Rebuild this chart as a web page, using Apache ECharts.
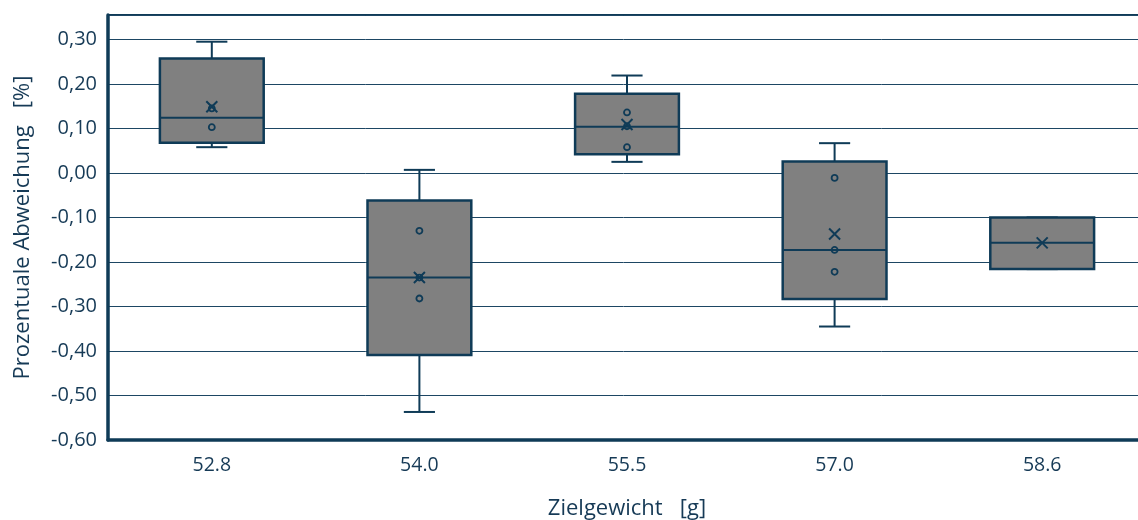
<!DOCTYPE html>
<html>
<head>
	<meta charset="UTF-8">
	<title>Prozentuale Abweichung</title>
	<script src="https://cdn.jsdelivr.net/npm/echarts@6/dist/echarts.min.js"></script>
	<style>
		html, body { margin: 0; padding: 0; background: #fff; }
		#chart { width: 1138px; height: 520px; }
	</style>
</head>
<body>
	<div id="chart"></div>
	<script type="text/javascript">
		// Zielgewicht (Kategorien)
		var categories = ['52.8', '54.0', '55.5', '57.0', '58.6'];
		// Boxplot-Kennwerte je Kategorie
		var minVals    = [0.058, -0.537, 0.025, -0.345, -0.216];
		var q1Vals     = [0.068, -0.409, 0.042, -0.283, -0.216];
		var medianVals = [0.124, -0.235, 0.104, -0.173, -0.157];
		var q3Vals     = [0.257, -0.062, 0.178, 0.026, -0.100];
		var maxVals    = [0.295, 0.007, 0.219, 0.067, -0.100];
		// Mittelwerte (Kreuz)
		var meanVals   = [0.149, -0.235, 0.109, -0.137, -0.157];
		// innere Punkte (Kreise)
		var innerPoints = [
			[0.103, 0.145],
			[-0.130, -0.235, -0.282],
			[0.136, 0.105, 0.058],
			[-0.011, -0.173, -0.222],
			[]
		];
		// Achsenbereich
		var yMin = -0.6, yMax = 0.355, yStep = 0.1;

		var navy = '#0f3b57';
		var textColor = '#163a56';
		var fontName = 'Open Sans';

		var boxData = [];
		var meanData = [];
		var pointData = [];
		for (var i = 0; i < categories.length; i++) {
			boxData.push([i, minVals[i], q1Vals[i], medianVals[i], q3Vals[i], maxVals[i]]);
			meanData.push([i, meanVals[i]]);
			for (var j = 0; j < innerPoints[i].length; j++) {
				pointData.push([i, innerPoints[i][j]]);
			}
		}

		var myChart = echarts.init(document.getElementById('chart'));

		var option = {
			animation: false,
			grid: {
				left: 108,
				right: -8,
				top: 15,
				bottom: 80,
				containLabel: false,
				outerBoundsMode: 'none',
				show: true,
				borderColor: navy,
				borderWidth: 2,
				backgroundColor: 'transparent'
			},
			xAxis: {
				type: 'category',
				data: categories,
				name: 'Zielgewicht   [g]',
				nameLocation: 'middle',
				nameGap: 58,
				nameTextStyle: { color: textColor, fontFamily: fontName, fontSize: 22 },
				axisLine: { onZero: false, lineStyle: { color: navy, width: 3.5 } },
				axisTick: { inside: true, length: 6, lineStyle: { color: navy, width: 1.5 } },
				axisLabel: { color: textColor, fontFamily: fontName, fontSize: 19.5, margin: 15 },
				splitLine: { show: false }
			},
			yAxis: {
				type: 'value',
				min: yMin,
				max: yMax,
				interval: yStep,
				name: 'Prozentuale Abweichung   [%]',
				nameLocation: 'middle',
				nameGap: 74,
				nameTextStyle: { color: textColor, fontFamily: fontName, fontSize: 22 },
				axisLine: { show: true, lineStyle: { color: navy, width: 3.5 } },
				axisTick: { show: false },
				axisLabel: {
					color: textColor, fontFamily: fontName, fontSize: 20, margin: 11,
					formatter: function (v) {
						if (v > 0.31) return '';
						return v.toFixed(2).replace('.', ',');
					}
				},
				splitLine: { lineStyle: { color: '#1d4663', width: 1 } }
			},
			series: [{
				type: 'custom',
				data: boxData,
				encode: { x: 0, y: [1, 2, 3, 4, 5] },
				z: 2,
				renderItem: function (params, api) {
					var idx = api.value(0);
					var bandW = api.size([1, 0])[0];
					var halfBox = bandW * 0.25;
					var halfCap = bandW * 0.075;
					var xc = api.coord([idx, 0])[0];
					var yLo = api.coord([idx, api.value(1)])[1];
					var yQ1 = api.coord([idx, api.value(2)])[1];
					var yMed = api.coord([idx, api.value(3)])[1];
					var yQ3 = api.coord([idx, api.value(4)])[1];
					var yHi = api.coord([idx, api.value(5)])[1];
					var lineStyle = { stroke: navy, lineWidth: 2, fill: null };
					return {
						type: 'group',
						children: [
							{ type: 'line', shape: { x1: xc, y1: yHi, x2: xc, y2: yQ3 }, style: lineStyle },
							{ type: 'line', shape: { x1: xc, y1: yQ1, x2: xc, y2: yLo }, style: lineStyle },
							{ type: 'line', shape: { x1: xc - halfCap, y1: yHi, x2: xc + halfCap, y2: yHi }, style: lineStyle },
							{ type: 'line', shape: { x1: xc - halfCap, y1: yLo, x2: xc + halfCap, y2: yLo }, style: lineStyle },
							{
								type: 'rect',
								shape: { x: xc - halfBox, y: yQ3, width: halfBox * 2, height: yQ1 - yQ3 },
								style: { fill: '#808080', stroke: navy, lineWidth: 2.5 }
							},
							{ type: 'line', shape: { x1: xc - halfBox, y1: yMed, x2: xc + halfBox, y2: yMed }, style: lineStyle }
						]
					};
				}
			}, {
				type: 'scatter',
				data: pointData,
				z: 3,
				symbol: 'circle',
				symbolSize: 6,
				itemStyle: { color: 'rgba(0,0,0,0)', borderColor: navy, borderWidth: 1.8, opacity: 1 }
			}, {
				type: 'scatter',
				data: meanData,
				z: 4,
				symbol: 'path://M0,0L10,10M10,0L0,10',
				symbolSize: 11,
				itemStyle: { color: 'rgba(0,0,0,0)', borderColor: navy, borderWidth: 2, opacity: 1 }
			}]
		};

		myChart.setOption(option);
	</script>
</body>
</html>
